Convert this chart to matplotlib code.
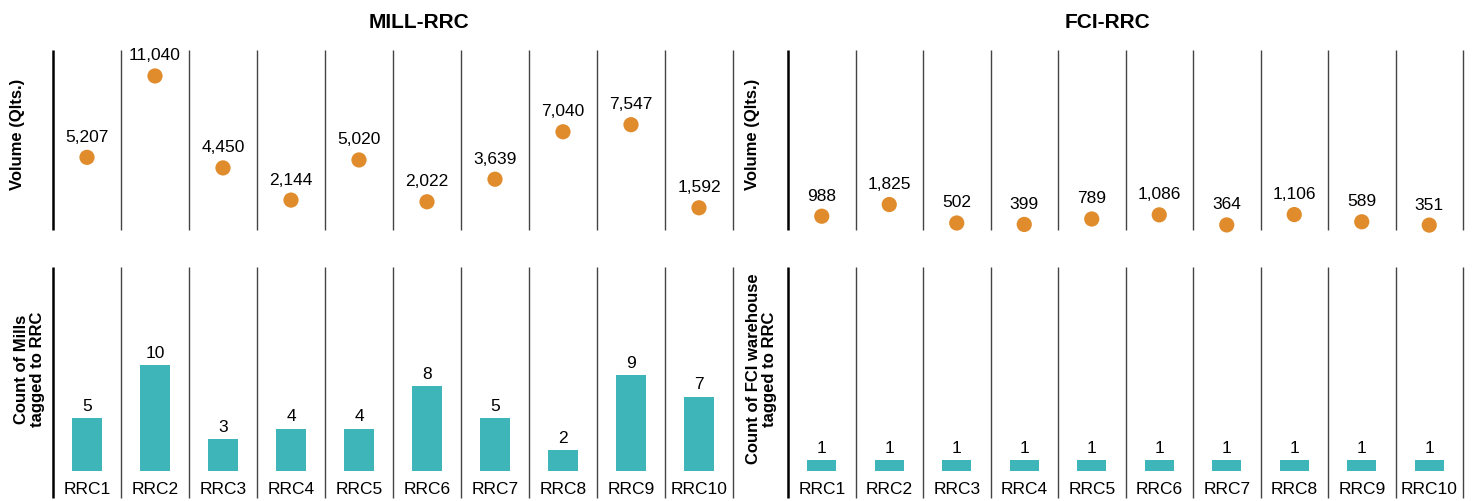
import numpy as np
import matplotlib.pyplot as plt

plt.rcParams['font.family'] = ['Liberation Sans', 'DejaVu Sans']

# -------------------------------------------------------
# Данные
# -------------------------------------------------------
rrc_labels = ['RRC1', 'RRC2', 'RRC3', 'RRC4', 'RRC5',
              'RRC6', 'RRC7', 'RRC8', 'RRC9', 'RRC10']

mill_volume = [5207, 11040, 4450, 2144, 5020, 2022, 3639, 7040, 7547, 1592]
mill_count = [5, 10, 3, 4, 4, 8, 5, 2, 9, 7]

fci_volume = [988, 1825, 502, 399, 789, 1086, 364, 1106, 589, 351]
fci_count = [1, 1, 1, 1, 1, 1, 1, 1, 1, 1]

DOT_COLOR = '#E08C2C'
BAR_COLOR = '#3DB5B9'

# -------------------------------------------------------
# Фигура
# -------------------------------------------------------
W, H = 1474, 501
fig = plt.figure(figsize=(W / 100, H / 100), dpi=100)


def px_axes(x0, y0, x1, y1):
    """Оси по пиксельным координатам (сверху вниз)."""
    return fig.add_axes([x0 / W, 1 - y1 / H, (x1 - x0) / W, (y1 - y0) / H])


def clean(ax):
    for s in ax.spines.values():
        s.set_visible(False)
    ax.set_yticks([])
    ax.set_xlim(-0.5, len(rrc_labels) - 0.5)


def separators(ax, y_low=0.0):
    tr = ax.get_xaxis_transform()
    n = len(rrc_labels)
    for k in range(n + 1):
        xx = k - 0.5
        lw = 1.8 if k == 0 else 1.0
        col = 'black' if k == 0 else '#444444'
        ax.plot([xx, xx], [y_low, 1], color=col, lw=lw, transform=tr,
                clip_on=False, solid_capstyle='butt')


def dot_panel(ax, values, ylabel, label_x):
    clean(ax)
    x = np.arange(len(values))
    ax.scatter(x, values, s=120, color=DOT_COLOR, zorder=3,
               edgecolors='none', clip_on=False)
    for xi, v in zip(x, values):
        ax.annotate(f'{v:,}', (xi, v), xytext=(0, 9), textcoords='offset points',
                    ha='center', va='bottom', fontsize=12.5)
    ax.set_ylim(0, 12900)
    ax.set_xticks([])
    separators(ax)
    ax.set_ylabel(ylabel, fontsize=12, fontweight='bold')
    ax.yaxis.set_label_coords(label_x, 0.53)


def bar_panel(ax, values, ylabel, label_x):
    clean(ax)
    x = np.arange(len(values))
    bars = ax.bar(x, values, width=0.43, color=BAR_COLOR, zorder=3)
    ax.bar_label(bars, labels=[str(v) for v in values], padding=3, fontsize=12.5)
    ax.set_ylim(0, 19.2)
    ax.set_xticks(x)
    ax.set_xticklabels(rrc_labels, fontsize=12.5)
    ax.tick_params(axis='x', length=0, pad=8)
    separators(ax, y_low=-0.13)
    ax.set_ylabel(ylabel, fontsize=12, fontweight='bold', linespacing=1.1)
    ax.yaxis.set_label_coords(label_x, 0.5)


# Левая панель: MILL-RRC
ax1 = px_axes(53, 50, 733, 230)
dot_panel(ax1, mill_volume, 'Volume (Qlts.)', -0.041)
ax2 = px_axes(53, 267, 733, 471)
bar_panel(ax2, mill_count, 'Count of Mills\ntagged to RRC', -0.012)

# Правая панель: FCI-RRC
ax3 = px_axes(788, 50, 1463, 230)
dot_panel(ax3, fci_volume, 'Volume (Qlts.)', -0.041)
ax4 = px_axes(788, 267, 1463, 471)
bar_panel(ax4, fci_count, 'Count of FCI warehouse\ntagged to RRC', -0.016)

fig.text(419 / W, 1 - 22 / H, 'MILL-RRC', ha='center', va='center',
         fontsize=15, fontweight='bold')
fig.text(1107 / W, 1 - 22 / H, 'FCI-RRC', ha='center', va='center',
         fontsize=15, fontweight='bold')

fig.savefig('out.png', dpi=100)
